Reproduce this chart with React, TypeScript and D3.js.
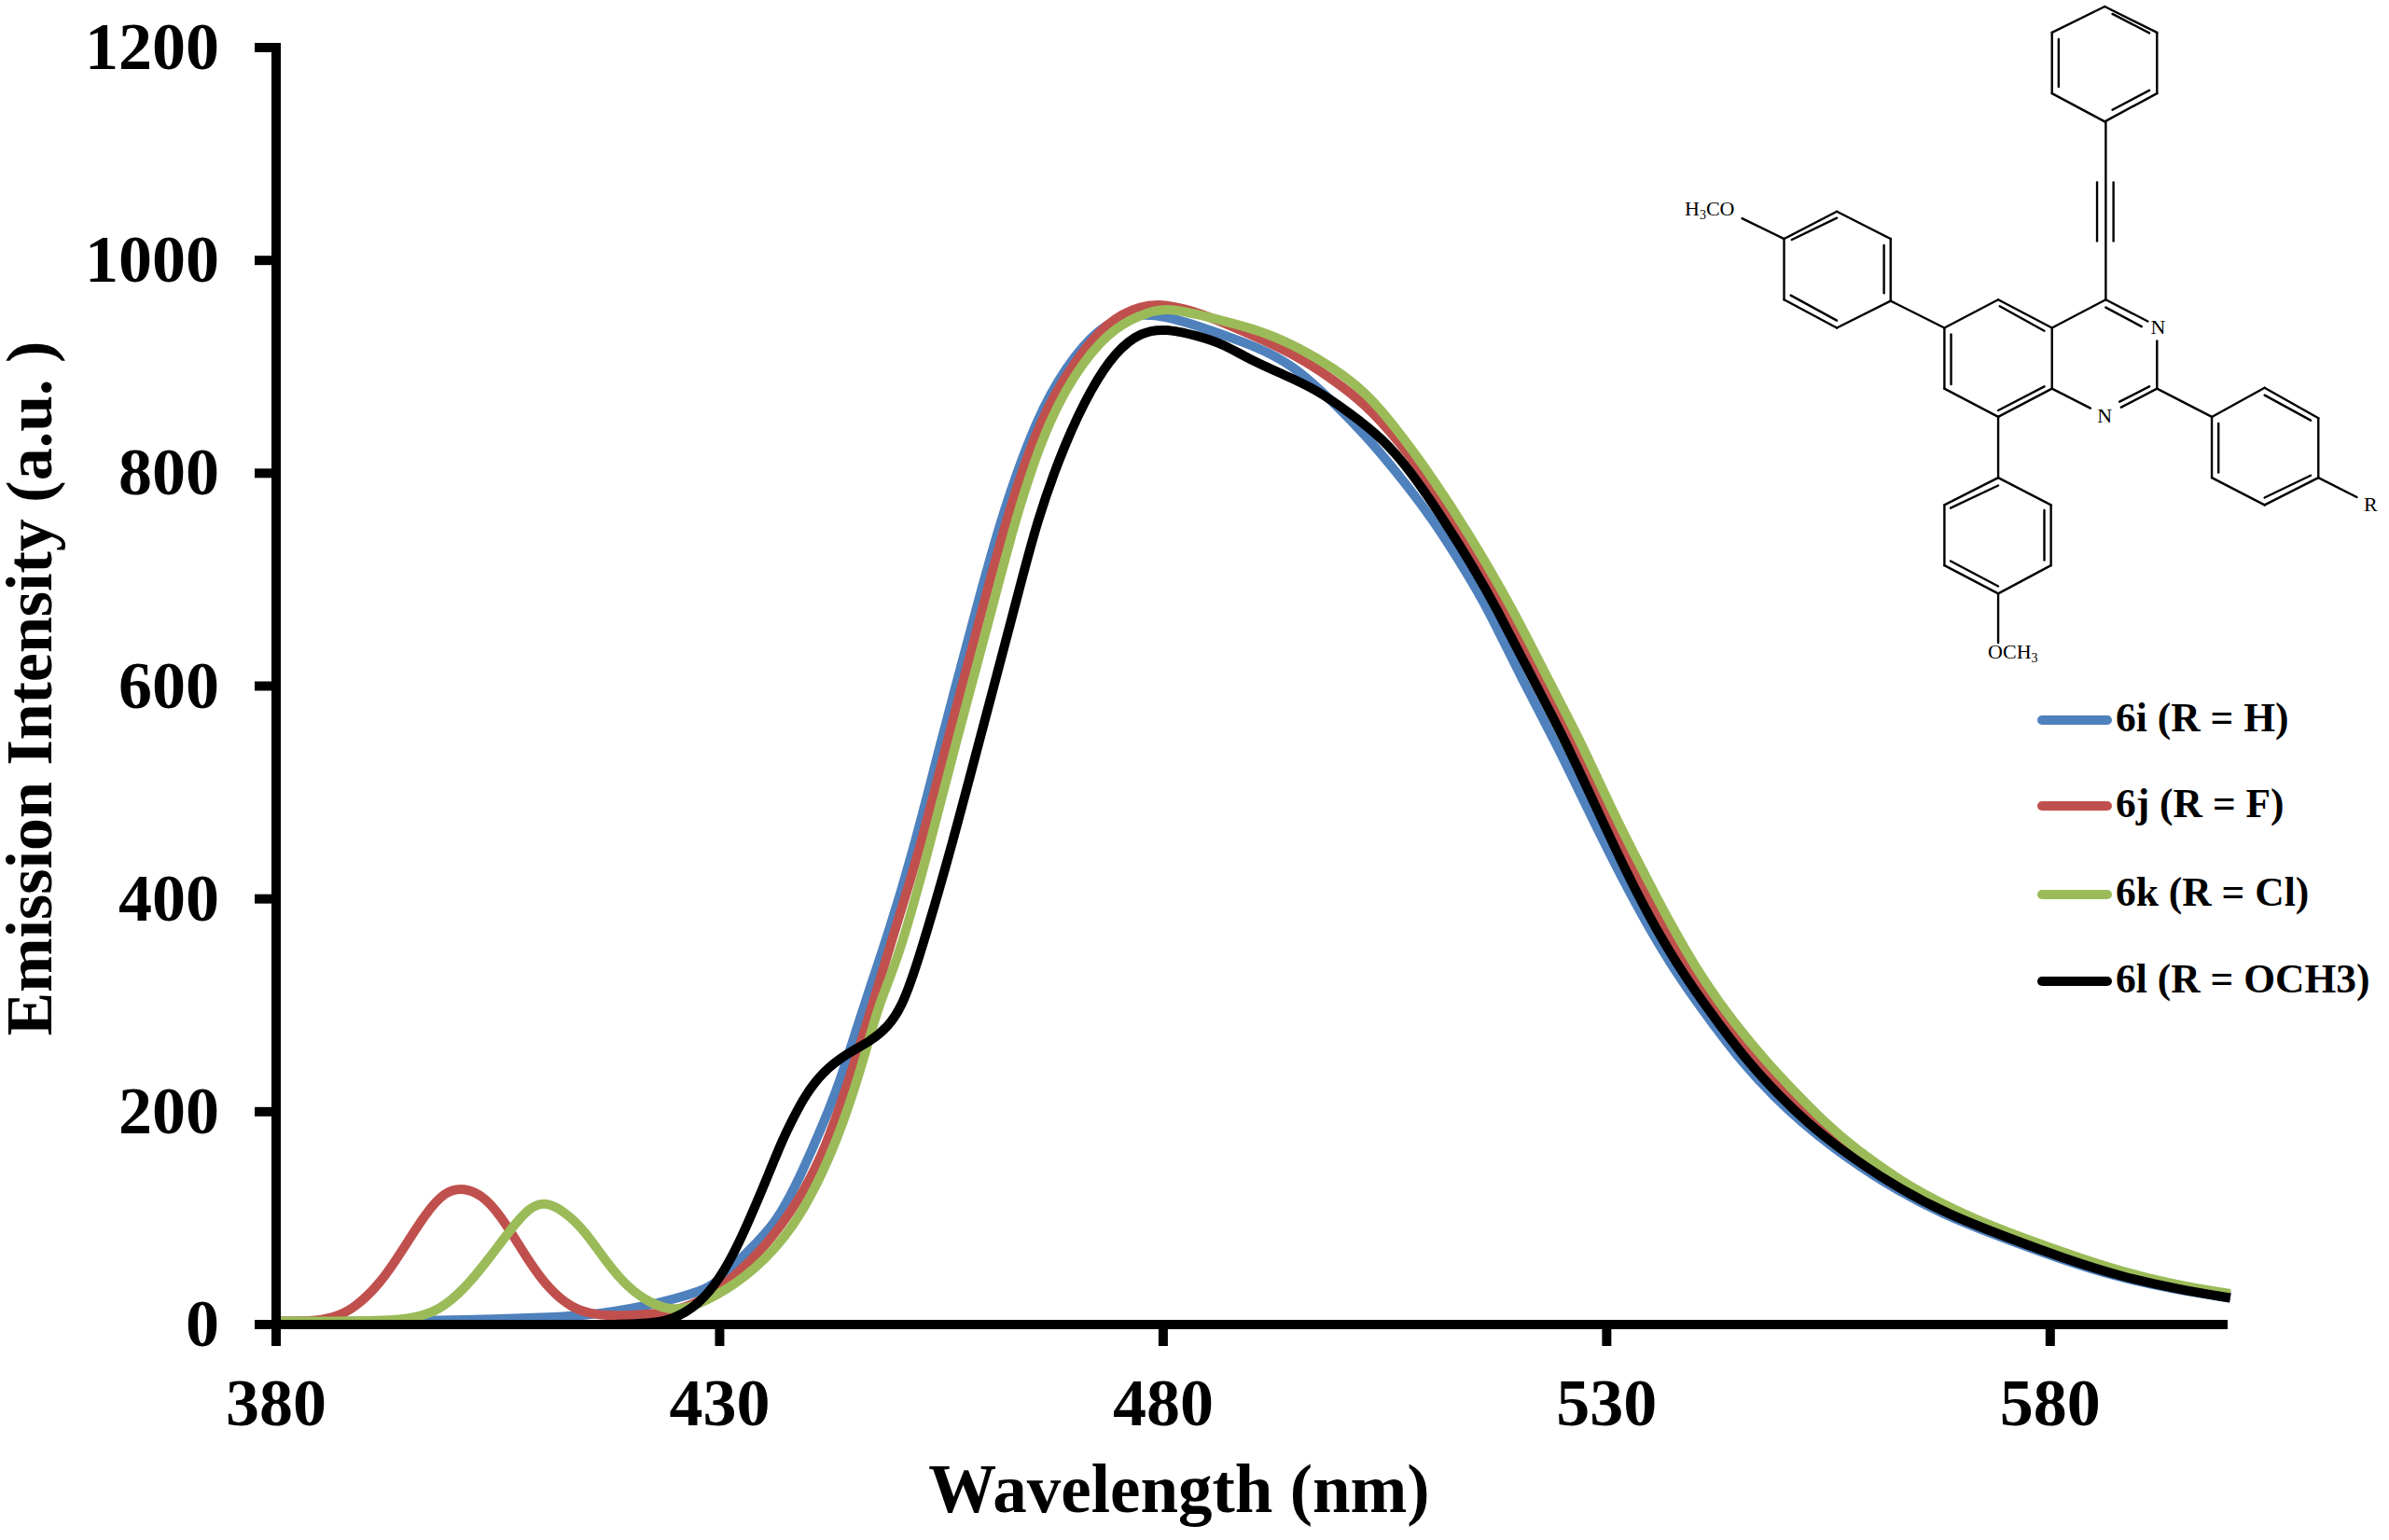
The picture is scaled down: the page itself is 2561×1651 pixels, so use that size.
import React, { useEffect, useRef } from "react";
import * as d3 from "d3";

const WIDTH = 2561;
const HEIGHT = 1651;
const MARGIN = { top: 51, right: 173, bottom: 231, left: 296 };
const SERIF = "'Liberation Serif', 'Times New Roman', serif";

const xTicks = [380, 430, 480, 530, 580];
const yTicks = [0, 200, 400, 600, 800, 1000, 1200];

const nmBlue = [380, 395, 405, 412, 415, 418, 421.4, 424.9, 428.5, 430, 433, 436.5, 439.3, 441.7, 443.5, 445.3, 447, 449, 451.7, 454.8, 459, 462, 465.8, 469, 472.8, 476.5, 480.3, 484, 487.8, 491.6, 495.3, 499, 502.8, 506.6, 510.4, 514.1, 516.4, 520.6, 524.2, 528, 531.5, 535, 538.5, 542, 545.5, 549, 552, 555.2, 561.6, 568, 574.5, 581, 587.4, 594, 600.3];
const valBlue = [3, 3, 5, 7, 9, 12, 17, 24, 33, 42, 67, 96, 143, 189, 227, 274, 318, 367, 441, 543, 675, 766, 853, 900, 938, 950, 948, 938, 927, 915, 897, 868, 836, 798, 757, 708, 676, 604, 548, 482, 423, 369, 322, 282, 244, 213, 190, 168, 131, 103, 82, 62, 45, 33, 25];

const nmRed = [380, 383.9, 386.4, 388.8, 391.7, 394.1, 396.9, 399, 401.2, 403.6, 406, 408.5, 410.9, 413.3, 415.4, 418, 421.4, 424.9, 428.5, 431.9, 434.8, 439, 442.1, 444.2, 446.3, 449.6, 452.4, 455.5, 459.7, 462.6, 466.2, 470, 473.7, 477.5, 480.3, 484, 487.8, 491.6, 495.3, 499, 502.8, 506.6, 510.4, 514.1, 519, 522.6, 526.1, 529.7, 533.1, 536.6, 540.2, 543.7, 547.1, 550.7, 553.8, 556.9, 563.3, 569.8, 576.2, 582.7, 589.2, 595.6, 600.3];
const valRed = [3, 3, 6, 15, 38, 68, 105, 125, 129, 120, 94, 59, 32, 16, 10, 8, 9, 12, 24, 47, 70, 116, 169, 221, 274, 367, 441, 543, 675, 766, 853, 905, 943, 958, 959, 951, 938, 924, 909, 889, 865, 830, 787, 737, 662, 606, 551, 485, 429, 373, 322, 282, 248, 216, 190, 166, 127, 100, 79, 60, 44, 33, 27];

const nmGreen = [380, 393, 395.9, 398.3, 401.1, 403.9, 406.4, 408.5, 410.4, 412.7, 414.8, 417.2, 419.6, 422.2, 424.3, 426.4, 429.5, 434, 438.3, 441.7, 444.2, 446.3, 448, 450.2, 453.4, 456.5, 460.8, 463.6, 467.2, 471, 474.6, 478.4, 480.7, 484, 487.8, 491.6, 495.3, 499, 502.8, 506.6, 510.4, 514.1, 519.2, 523.4, 526.9, 530.5, 533.9, 537.4, 541, 544.5, 547.9, 551.5, 554.6, 557.7, 564.1, 570.6, 577, 583.5, 590, 596.4, 600.3];
const valGreen = [3, 3, 7, 13, 32, 61, 89, 110, 116, 105, 88, 59, 35, 20, 14, 15, 26, 51, 90, 143, 195, 251, 303, 345, 441, 543, 675, 766, 853, 906, 938, 952, 955, 949, 941, 932, 918, 900, 877, 839, 795, 748, 676, 606, 551, 485, 429, 373, 322, 282, 248, 216, 190, 167, 129, 102, 81, 62, 45, 34, 29];

const nmBlack = [418, 422, 424.6, 427.7, 430, 432, 434, 435.6, 437, 438.3, 439.6, 441.7, 444.2, 447, 449, 450.5, 452.2, 455.9, 459.1, 463.3, 465.8, 469, 471.9, 474.6, 477.5, 480.3, 484, 486.9, 489.7, 493.5, 497.2, 501, 504.7, 508, 511.8, 515, 517.4, 521.7, 525.2, 528.7, 532.2, 535.7, 539.2, 542.7, 546.2, 549.7, 552.6, 555.8, 562.2, 568.6, 575.1, 581.6, 588, 594.5, 600.3];
const valBlack = [0, 1, 4, 19, 43, 73, 111, 143, 172, 194, 215, 238, 254, 266, 280, 298, 336, 441, 543, 675, 757, 830, 880, 914, 933, 936, 929, 921, 907, 893, 879, 857, 833, 801, 754, 711, 676, 606, 551, 488, 425, 369, 322, 282, 244, 213, 190, 168, 131, 103, 82, 62, 45, 33, 25];

const seriesNames = ["6i (R = H)", "6j (R = F)", "6k (R = Cl)", "6l (R = OCH3)"];
const seriesColors = ["#4f81bd", "#c0504d", "#9bbb59", "#000000"];
const seriesNm = [nmBlue, nmRed, nmGreen, nmBlack];
const seriesVal = [valBlue, valRed, valGreen, valBlack];
const legendY = [772, 864, 959, 1052];

// structure inset, points in px relative to the inset's corner
const bonds = [
  [[1013, 15], [1115, 75]], [[1115, 75], [1115, 215]], [[1115, 215], [1013, 280]], [[1013, 280], [910, 215]], [[910, 215], [910, 75]], [[910, 75], [1013, 15]],
  [[1028, 32], [1100, 76]], [[1100, 208], [1028, 253]], [[923, 200], [923, 90]],
  [[1015, 280], [1015, 690]], [[998, 420], [998, 555]], [[1030, 420], [1030, 555]],
  [[1015, 690], [1097, 740]], [[1015, 708], [1085, 752]], [[1115, 785], [1115, 895]], [[1115, 895], [1045, 938]], [[1100, 890], [1042, 925]], [[985, 940], [910, 895]], [[910, 895], [910, 755]], [[910, 755], [1015, 690]],
  [[910, 755], [805, 690]], [[805, 690], [700, 755]], [[700, 755], [700, 895]], [[700, 895], [805, 960]], [[805, 960], [910, 895]],
  [[808, 705], [895, 762]], [[713, 770], [713, 885]], [[805, 945], [895, 890]],
  [[700, 755], [595, 693]], [[595, 693], [595, 550]], [[595, 550], [490, 487]], [[490, 487], [387, 550]], [[387, 550], [387, 690]], [[387, 690], [490, 755]], [[490, 755], [595, 693]],
  [[582, 675], [582, 565]], [[490, 502], [402, 552]], [[400, 680], [490, 738]], [[387, 550], [305, 503]],
  [[805, 960], [805, 1100]], [[805, 1100], [908, 1163]], [[908, 1163], [908, 1302]], [[908, 1302], [805, 1367]], [[805, 1367], [700, 1302]], [[700, 1302], [700, 1163]], [[700, 1163], [805, 1100]],
  [[805, 1118], [712, 1170]], [[895, 1175], [895, 1290]], [[805, 1350], [712, 1292]], [[805, 1367], [805, 1480]],
  [[1115, 895], [1222, 960]], [[1222, 960], [1325, 893]], [[1325, 893], [1430, 963]], [[1430, 963], [1430, 1100]], [[1430, 1100], [1325, 1163]], [[1325, 1163], [1222, 1100]], [[1222, 1100], [1222, 960]],
  [[1325, 910], [1415, 968]], [[1235, 975], [1235, 1088]], [[1415, 1095], [1325, 1146]], [[1430, 1100], [1505, 1145]],
];

const xScale = d3.scaleLinear().domain([380, 600]).range([MARGIN.left, WIDTH - MARGIN.right]);
const yScale = d3.scaleLinear().domain([0, 1200]).range([HEIGHT - MARGIN.bottom, MARGIN.top]);
const lineGen = d3
  .line<number[]>()
  .x((d) => xScale(d[0]))
  .y((d) => yScale(d[1]))
  .curve(d3.curveBasis);

// the inset crop was read at 1.821 / 2.148 px per image px
const insetX = (v: number) => 1700 + v / 1.821;
const insetY = (v: number) => v / 2.148;

export default function App() {
  const xAxisRef = useRef<SVGGElement>(null);
  const yAxisRef = useRef<SVGGElement>(null);

  useEffect(() => {
    const gx = d3.select(xAxisRef.current);
    gx.selectAll("*").remove();
    gx.call(d3.axisBottom(xScale).tickValues(xTicks).tickSizeInner(23).tickSizeOuter(0).offset(0).tickFormat(d3.format("d")) as any);
    gx.select(".domain").attr("stroke-width", 10);
    gx.selectAll(".tick line").attr("stroke-width", 10);
    gx.selectAll(".tick text").attr("y", 108).attr("dy", 0).attr("fill", "#000");

    const gy = d3.select(yAxisRef.current);
    gy.selectAll("*").remove();
    gy.call(d3.axisLeft(yScale).tickValues(yTicks).tickSizeInner(23).tickSizeOuter(0).offset(0).tickFormat(d3.format("d")) as any);
    gy.select(".domain").attr("stroke-width", 10).attr("stroke-linecap", "square");
    gy.selectAll(".tick line").attr("stroke-width", 10);
    gy.selectAll(".tick text").attr("x", -61).attr("fill", "#000");

    for (const g of [gx, gy]) {
      g.attr("font-family", SERIF).attr("font-size", 72).attr("font-weight", "bold");
    }
  }, []);

  return (
    <svg width={WIDTH} height={HEIGHT} style={{ position: "absolute", left: 0, top: 0, background: "#fff" }}>
      {seriesNames.map((name, i) => (
        <path
          key={name}
          d={lineGen(seriesNm[i].map((nm, k) => [nm, seriesVal[i][k]])) ?? ""}
          fill="none"
          stroke={seriesColors[i]}
          strokeWidth={10}
        />
      ))}
      <g ref={xAxisRef} transform={`translate(0,${yScale(0)})`} />
      <g ref={yAxisRef} transform={`translate(${xScale(380)},0)`} />

      <text x={1264} y={1621} textAnchor="middle" fontFamily={SERIF} fontWeight="bold" fontSize={73}>
        Wavelength (nm)
      </text>
      <text
        transform="translate(55,738) rotate(-90)"
        textAnchor="middle"
        fontFamily={SERIF}
        fontWeight="bold"
        fontSize={70}
      >
        Emission Intensity (a.u. )
      </text>

      {seriesNames.map((name, i) => (
        <g key={name}>
          <line x1={2189} x2={2259} y1={legendY[i]} y2={legendY[i]} stroke={seriesColors[i]} strokeWidth={10} strokeLinecap="round" />
          <text x={2268} y={legendY[i] + 12} fontFamily={SERIF} fontWeight="bold" fontSize={43.5}>
            {name}
          </text>
        </g>
      ))}

      <g stroke="#000" strokeWidth={2.4} strokeLinecap="round">
        {bonds.map((b, i) => (
          <line key={i} x1={insetX(b[0][0])} y1={insetY(b[0][1])} x2={insetX(b[1][0])} y2={insetY(b[1][1])} />
        ))}
      </g>
      <g fontFamily={SERIF} fontSize={22} fill="#000">
        <text x={insetX(1117)} y={insetY(770)} textAnchor="middle">N</text>
        <text x={insetX(1013)} y={insetY(973)} textAnchor="middle">N</text>
        <text x={insetX(1532)} y={insetY(1177)} textAnchor="middle">R</text>
        <text x={insetX(193)} y={insetY(497)}>
          H<tspan fontSize={14} dy={4}>3</tspan><tspan dy={-4}>CO</tspan>
        </text>
        <text x={insetX(785)} y={insetY(1517)}>
          OCH<tspan fontSize={14} dy={4}>3</tspan>
        </text>
      </g>
    </svg>
  );
}
